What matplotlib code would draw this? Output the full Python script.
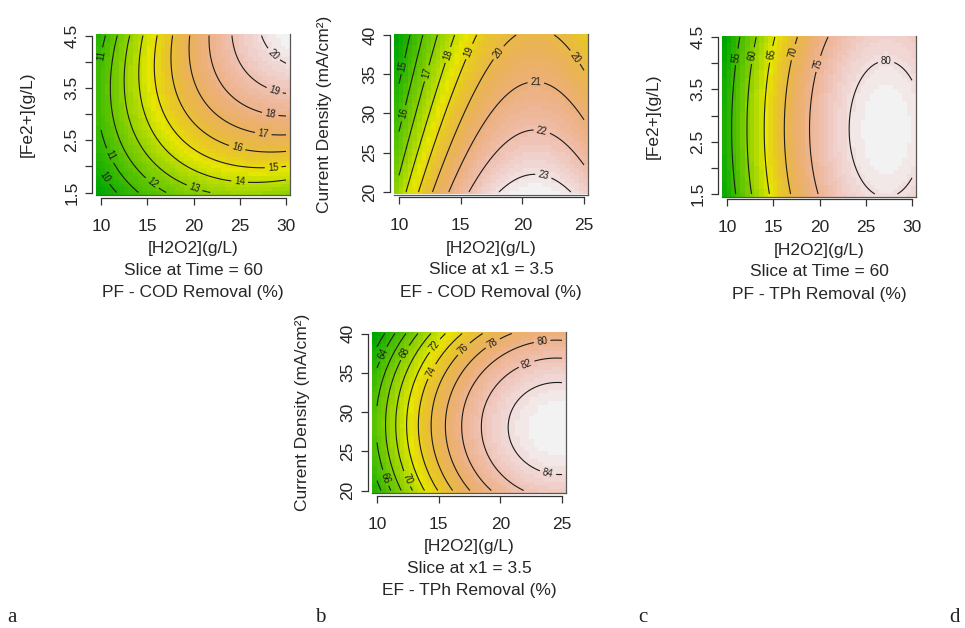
import numpy as np
import matplotlib
matplotlib.use("Agg")
import matplotlib.pyplot as plt
from matplotlib.colors import ListedColormap, hsv_to_rgb

plt.rcParams['font.family'] = ['Liberation Sans', 'DejaVu Sans']

# ---------------- data ----------------
# Panel a: PF - COD Removal (%), x = [H2O2], y = [Fe2+]
a_x = [10, 15, 20, 25, 30]
a_y = [1.5, 2.5, 3.5, 4.5]
a_z = [[9.2, 11.3, 12.7, 13.3, 13.0],
       [10.8, 13.5, 15.4, 16.4, 16.7],
       [11.3, 14.5, 16.9, 18.4, 19.2],
       [10.6, 14.3, 17.2, 19.3, 20.6]]
a_levels = [10, 11, 12, 13, 14, 15, 16, 17, 18, 19, 20]

# Panel b: EF - COD Removal (%), x = [H2O2], y = current density
b_x = [10, 15, 20, 25]
b_y = [20, 25, 30, 35, 40]
b_z = [[17.4, 21.6, 23.4, 22.6],
       [16.5, 20.7, 22.5, 21.7],
       [15.6, 19.8, 21.6, 20.9],
       [14.8, 19.0, 20.8, 20.1],
       [14.1, 18.3, 20.1, 19.3]]
b_levels = [15, 16, 17, 18, 19, 20, 21, 22, 23]

# Panel c: PF - TPh Removal (%)
c_x = [10, 15, 20, 25, 30]
c_y = [1.5, 2.5, 3.5, 4.5]
c_z = [[52.0, 66.0, 75.2, 79.7, 79.4],
       [53.3, 67.3, 76.5, 81.0, 80.7],
       [52.9, 66.9, 76.1, 80.5, 80.3],
       [50.6, 64.6, 73.8, 78.3, 78.0]]
c_levels = [55, 60, 65, 70, 75, 80]

# Panel d: EF - TPh Removal (%)
d_x = [10, 15, 20, 25]
d_y = [20, 25, 30, 35, 40]
d_z = [[63.2, 74.2, 80.7, 82.6],
       [65.7, 76.7, 83.2, 85.1],
       [65.9, 76.9, 83.4, 85.4],
       [64.2, 75.2, 81.4, 83.4],
       [60.8, 70.9, 77.2, 79.1]]
d_levels = [62, 64, 66, 68, 70, 72, 74, 76, 78, 80, 82, 84]

fe_ticks = [1.5, 2.0, 2.5, 3.0, 3.5, 4.0, 4.5]
fe_labels = ['1.5', '', '2.5', '', '3.5', '', '4.5']
h_ticks_30 = [10, 15, 20, 25, 30]
h_ticks_25 = [10, 15, 20, 25]
cd_ticks = [20, 25, 30, 35, 40]

xlab = '[H2O2](g/L)'

# where the contour labels sit (layout only)
a_lab_pos = [(10.2, 4.0), (10.9, 2.2), (10.2, 1.77), (15.4, 1.65), (20.1, 1.58), (25.0, 1.74),
             (28.6, 2.0), (24.6, 2.28), (27.5, 2.57), (28.2, 2.91), (28.6, 3.36), (28.4, 4.09)]
b_lab_pos = [(10.4, 36.0), (10.4, 30.0), (12.3, 35.1), (13.9, 37.5), (15.7, 37.9), (18.1, 37.7),
             (24.4, 37.3), (21.1, 34.3), (21.6, 27.9), (21.7, 22.0)]
c_lab_pos = [(11.1, 4.12), (12.6, 4.15), (14.5, 4.18), (17.2, 4.21), (19.8, 3.99), (27.2, 3.96)]
d_lab_pos = [(10.7, 37.2), (12.2, 37.6), (14.66, 38.5), (14.5, 35.1), (17.0, 38.1), (19.4, 38.7),
             (23.4, 38.9), (22.1, 36.2), (23.9, 22.5), (10.5, 21.5), (12.3, 21.4)]

panels = [
    dict(x=a_x, y=a_y, z=a_z, lev=a_levels, lab=a_lab_pos, xt=h_ticks_30, yt=fe_ticks, ytl=fe_labels,
         ylab='[Fe2+](g/L)', l2='Slice at Time = 60', l3='PF - COD Removal (%)', box=(96, 34)),
    dict(x=b_x, y=b_y, z=b_z, lev=b_levels, lab=b_lab_pos, xt=h_ticks_25, yt=cd_ticks,
         ytl=[str(t) for t in cd_ticks],
         ylab='Current Density (mA/cm²)', l2='Slice at x1 = 3.5', l3='EF - COD Removal (%)', box=(394, 33.5)),
    dict(x=c_x, y=c_y, z=c_z, lev=c_levels, lab=c_lab_pos, xt=h_ticks_30, yt=fe_ticks, ytl=fe_labels,
         ylab='[Fe2+](g/L)', l2='Slice at Time = 60', l3='PF - TPh Removal (%)', box=(722, 35.5)),
    dict(x=d_x, y=d_y, z=d_z, lev=d_levels, lab=d_lab_pos, xt=h_ticks_25, yt=cd_ticks,
         ytl=[str(t) for t in cd_ticks],
         ylab='Current Density (mA/cm²)', l2='Slice at x1 = 3.5', l3='EF - TPh Removal (%)', box=(372, 332)),
]
letters = ['a', 'b', 'c', 'd']
letter_x = [12, 320, 643, 955]


def terrain_colors(n):
    k = n // 2
    m = n - k + 1
    h = np.r_[np.linspace(4 / 12, 2 / 12, k), np.linspace(2 / 12, 0, m)[1:]]
    s = np.r_[np.linspace(1, 1, k), np.linspace(1, 0, m)[1:]]
    v = np.r_[np.linspace(0.65, 0.9, k), np.linspace(0.9, 0.95, m)[1:]]
    return hsv_to_rgb(np.column_stack([h, s, v]))


cmap = ListedColormap(terrain_colors(50))


def quad_fit(x, y, z):
    """Second-order response-surface fit of the read values."""
    x = np.asarray(x, float); y = np.asarray(y, float); z = np.asarray(z, float)
    xc, xs = (x.min() + x.max()) / 2, (x.max() - x.min()) / 2
    yc, ys = (y.min() + y.max()) / 2, (y.max() - y.min()) / 2
    X, Y = np.meshgrid(x, y)
    U, V = (X - xc) / xs, (Y - yc) / ys
    A = np.column_stack([np.ones(U.size), U.ravel(), V.ravel(), U.ravel() ** 2,
                         V.ravel() ** 2, (U * V).ravel()])
    coef, *_ = np.linalg.lstsq(A, z.ravel(), rcond=None)

    def f(XX, YY):
        uu, vv = (XX - xc) / xs, (YY - yc) / ys
        return (coef[0] + coef[1] * uu + coef[2] * vv + coef[3] * uu ** 2
                + coef[4] * vv ** 2 + coef[5] * uu * vv)
    return f


W, H = 965, 628
fig = plt.figure(figsize=(W / 100, H / 100), dpi=100)
BW, BH = 194, 161
PL, PR, PT, PB = 5, 4, 1.5, 2.5
FS = 12.5
TXT = '#262626'

for p in panels:
    left, top = p['box']
    ax = fig.add_axes([left / W, 1 - (top + BH) / H, BW / W, BH / H])
    x0, x1 = min(p['x']), max(p['x'])
    y0, y1 = min(p['y']), max(p['y'])
    ppx = (BW - PL - PR) / (x1 - x0)
    ppy = (BH - PT - PB) / (y1 - y0)
    xlim = (x0 - PL / ppx, x1 + PR / ppx)
    ylim = (y0 - PB / ppy, y1 + PT / ppy)
    f = quad_fit(p['x'], p['y'], p['z'])

    # image (pixelated like R's image())
    nx = ny = 42
    xe = np.linspace(xlim[0], xlim[1], nx + 1)
    ye = np.linspace(ylim[0], ylim[1], ny + 1)
    XC, YC = np.meshgrid((xe[:-1] + xe[1:]) / 2, (ye[:-1] + ye[1:]) / 2)
    ZC = f(XC, YC)
    ax.pcolormesh(xe, ye, ZC, cmap=cmap, vmin=ZC.min(), vmax=ZC.max(), shading='flat')

    # contours
    xf = np.linspace(x0, x1, 240)
    yf = np.linspace(y0, y1, 240)
    XF, YF = np.meshgrid(xf, yf)
    ZF = f(XF, YF)
    cs = ax.contour(XF, YF, ZF, levels=p['lev'], colors='#1c1c1c', linewidths=0.8)
    ax.clabel(cs, fmt='%d', fontsize=7, inline=True, inline_spacing=3, manual=p['lab'])

    ax.set_xlim(*xlim)
    ax.set_ylim(*ylim)
    for sp in ['top', 'right']:
        ax.spines[sp].set_visible(False)
    ax.spines['left'].set_position(('outward', 3))
    ax.spines['bottom'].set_position(('outward', 2))
    ax.spines['left'].set_bounds(y0, y1)
    ax.spines['bottom'].set_bounds(x0, x1)
    for sp in ['left', 'bottom']:
        ax.spines[sp].set_color('#333333')
        ax.spines[sp].set_linewidth(0.9)
    # box edges (right and bottom)
    ax.plot([1, 1], [0, 1], transform=ax.transAxes, color='#555555', lw=0.9, clip_on=False)
    ax.plot([0, 1], [0, 0], transform=ax.transAxes, color='#555555', lw=0.9, clip_on=False)

    ax.set_xticks(p['xt'])
    ax.set_xticklabels([str(t) for t in p['xt']])
    ax.set_yticks(p['yt'])
    ax.set_yticklabels(p['ytl'], rotation=90, va='center')
    ax.tick_params(axis='both', direction='out', length=5, width=0.9, color='#333333',
                   labelsize=FS, labelcolor=TXT)
    ax.tick_params(axis='x', pad=10)
    ax.tick_params(axis='y', pad=4)

    cx = left + BW / 2
    bottom = top + BH
    for dy, t in zip([53.5, 75.5, 97.5], [xlab, p['l2'], p['l3']]):
        fig.text(cx / W, 1 - (bottom + dy) / H, t, ha='center', va='center',
                 fontsize=FS, color=TXT)
    fig.text((left - 69) / W, 1 - (top + BH / 2) / H, p['ylab'], rotation=90,
             ha='center', va='center', fontsize=FS, color=TXT)

for lt, lx in zip(letters, letter_x):
    fig.text(lx / W, 1 - 617 / H, lt, ha='center', va='center', fontsize=15,
             family=['Liberation Serif', 'DejaVu Serif'], color='#222222')

fig.savefig('out.png', dpi=100)
